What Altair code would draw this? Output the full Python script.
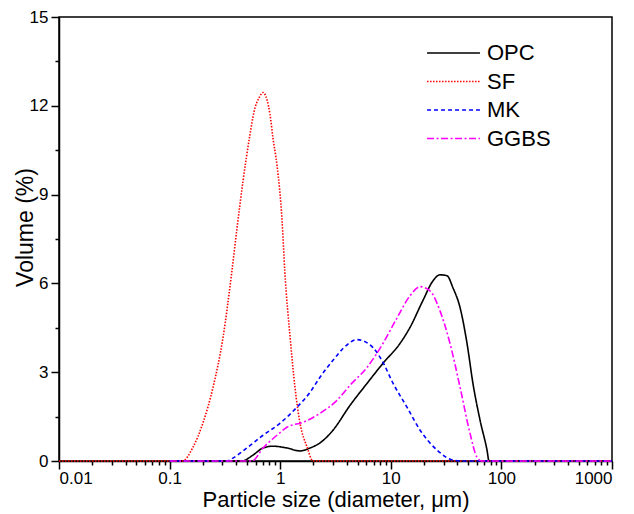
import altair as alt
import pandas as pd

series_names = ["OPC", "SF", "MK", "GGBS"]
series_colors = ["#000000", "#ff0000", "#0000ff", "#ff00ff"]
series_dashes = [[1, 0], [1.5, 1.5], [4, 3], [7, 2.5, 2, 2.5]]

# particle size (um) and volume (%)
opc_x = [0.1, 0.45, 0.568, 0.699, 0.861, 1.15, 1.51, 1.86, 2.29, 3.0, 4.28, 6.09,
         8.49, 12.1, 14.9, 19.5, 24.1, 27.8, 32.2, 36.5, 42.3, 48.9, 55.3, 64.1,
         74.1, 77.3, 1000]
opc_y = [0, 0, 0.2, 0.44, 0.5, 0.44, 0.34, 0.44, 0.61, 1.04, 1.88, 2.62,
         3.30, 3.97, 4.51, 5.42, 6.09, 6.29, 6.26, 5.85, 5.18, 3.97, 2.62, 1.38,
         0.37, 0, 0]

sf_x = [0.01, 0.10, 0.13, 0.163, 0.200, 0.247, 0.304, 0.366, 0.407, 0.461,
        0.533, 0.58, 0.65, 0.70, 0.76, 0.809, 0.861, 0.935, 1.04, 1.10, 1.23,
        1.36, 1.51, 1.75, 1.98, 10, 1000]
sf_y = [0, 0, 0, 0.47, 1.28, 2.49, 4.17, 6.42, 7.87, 9.45,
        11.03, 11.8, 12.3, 12.45, 12.2, 11.71, 10.9, 10.0, 8.11, 6.42, 4.17,
        2.49, 1.28, 0.47, 0, 0, 0]

mk_x = [0.1, 0.33, 0.37, 0.50, 0.70, 1.0, 1.42, 1.86, 2.29, 3.0, 3.7, 4.94,
        6.9, 8.5, 10.5, 14.0, 18.4, 26.2, 36.5, 45, 1000]
mk_y = [0, 0, 0.09, 0.44, 0.87, 1.28, 1.82, 2.32, 2.83, 3.40, 3.80, 4.10,
        3.83, 3.33, 2.62, 1.82, 1.04, 0.37, 0.03, 0, 0]

ggbs_x = [0.1, 0.5, 0.556, 0.70, 0.935, 1.15, 1.61, 2.29, 3.26, 4.28, 6.09,
          8.49, 11.4, 14.9, 18.4, 22.6, 27.8, 34.3, 42.3, 52.0, 60.1, 66.8, 1000]
ggbs_y = [0, 0, 0, 0.44, 0.87, 1.14, 1.31, 1.61, 2.05, 2.56, 3.16,
          3.97, 4.84, 5.58, 5.89, 5.75, 5.08, 3.97, 2.49, 0.94, 0.13, 0, 0]

x_ticks = [m * 10.0 ** e for e in range(-2, 3) for m in range(1, 10)] + [1000]
y_ticks = [i * 1.5 for i in range(11)]

rows = []
for name, xs, ys in [("OPC", opc_x, opc_y), ("SF", sf_x, sf_y),
                     ("MK", mk_x, mk_y), ("GGBS", ggbs_x, ggbs_y)]:
    for i, (x, y) in enumerate(zip(xs, ys)):
        rows.append({"size": x, "volume": y, "series": name, "order": i})
df = pd.DataFrame(rows)

FONT = "Liberation Sans"
major_x = "abs(log(datum.value)/LN10 - round(log(datum.value)/LN10)) < 0.001"
major_y = "abs(datum.value % 3) < 0.001"

legend = alt.Legend(
    title=None, orient="none", legendX=383.5, legendY=25,
    symbolType="M-5,0H5", symbolSize=112, symbolStrokeWidth=1.6,
    labelFontSize=22, labelFont=FONT, labelColor="black", labelOffset=22.5,
    rowPadding=6.5,
)

chart = alt.Chart(df).mark_line(interpolate="monotone", strokeWidth=1.6).encode(
    x=alt.X("size:Q",
            scale=alt.Scale(type="log", domain=[0.01, 1000], nice=False),
            axis=alt.Axis(
                title="Particle size (diameter, \u03bcm)",
                values=x_ticks,
                labelExpr=f"({major_x}) ? format(datum.value, '~g') : ''",
                tickSize={"condition": {"test": major_x, "value": 8}, "value": 4},
                labelPadding=1, titleY=45, titleBaseline="alphabetic",
                titleFontSize=22,
            )),
    y=alt.Y("volume:Q",
            scale=alt.Scale(domain=[0, 15], nice=False),
            axis=alt.Axis(
                title="Volume (%)",
                values=y_ticks,
                labelExpr=f"({major_y}) ? format(datum.value, 'd') : ''",
                tickSize={"condition": {"test": major_y, "value": 8}, "value": 4},
                labelPadding=3, titleX=-27, titleY=210, titleBaseline="alphabetic",
                titleAlign="center",
            )),
    color=alt.Color("series:N",
                    scale=alt.Scale(domain=series_names, range=series_colors),
                    legend=legend),
    strokeDash=alt.StrokeDash("series:N",
                              scale=alt.Scale(domain=series_names, range=series_dashes),
                              legend=legend),
    order="order:Q",
).properties(
    width=553, height=444,
    autosize=alt.AutoSizeParams(type="none"),
    padding={"left": 51, "top": 9, "right": 6, "bottom": 51},
).configure_view(
    stroke="black", strokeWidth=1.5,
).configure_axis(
    grid=False, domainColor="black", domainWidth=1.5,
    tickColor="black", tickWidth=1.5,
    labelFont=FONT, labelFontSize=17, labelColor="black",
    titleFont=FONT, titleFontSize=23, titleFontWeight="normal", titleColor="black",
)

chart.save("out.html", embed_options={"renderer": "svg", "actions": False})
